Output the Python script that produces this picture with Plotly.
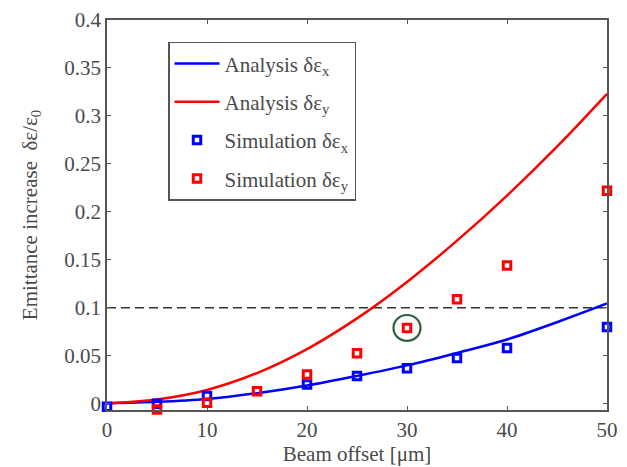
import plotly.graph_objects as go

# Analysis curves
x_curve = [0, 5, 10, 15, 20, 25, 30, 35, 40, 45, 50]
analysis_x = [0.0005, 0.002, 0.005, 0.011, 0.019, 0.029, 0.040, 0.053, 0.067, 0.085, 0.1045]
analysis_y = [0.0005, 0.0045, 0.0144, 0.032, 0.057, 0.089, 0.127, 0.170, 0.217, 0.268, 0.323]

# Simulation points
sim_x_pos = [0, 5, 10, 20, 25, 30, 35, 40, 50]
sim_x_val = [-0.003, 0.0, 0.008, 0.020, 0.029, 0.037, 0.0476, 0.058, 0.080]
sim_y_pos = [0, 5, 10, 15, 20, 25, 30, 35, 40, 50]
sim_y_val = [-0.007, -0.006, 0.001, 0.013, 0.0305, 0.0527, 0.079, 0.109, 0.144, 0.222]

threshold = 0.1
highlight = (30, 0.079)

x_ticks = [0, 10, 20, 30, 40, 50]
y_ticks = [0, 0.05, 0.1, 0.15, 0.2, 0.25, 0.3, 0.35, 0.4]
y_tick_text = ["0", "0.05", "0.1", "0.15", "0.2", "0.25", "0.3", "0.35", "0.4"]

BLUE = "#0000ff"
RED = "#ff0000"
TXT = "#4a4a4a"
FONT = "Liberation Serif"
FS = 21

fig = go.Figure()

fig.add_trace(go.Scatter(x=[0, 50], y=[threshold, threshold], mode="lines",
                         line=dict(color="#333333", width=1.5, dash="9px,5px"),
                         showlegend=False, hoverinfo="skip"))

fig.add_trace(go.Scatter(x=x_curve, y=analysis_x, mode="lines", line_shape="spline",
                         line=dict(color=BLUE, width=2.5), name="Analysis δε<sub>x</sub>",
                         legendgroup="a"))
fig.add_trace(go.Scatter(x=x_curve, y=analysis_y, mode="lines", line_shape="spline",
                         line=dict(color=RED, width=2.5), name="Analysis δε<sub>y</sub>",
                         legendgroup="b"))
fig.add_trace(go.Scatter(x=sim_x_pos, y=sim_x_val, mode="markers", cliponaxis=False,
                         marker=dict(symbol="square-open", size=7.5, color=BLUE, line=dict(width=3)),
                         name="Simulation δε<sub>x</sub>", legendgroup="c"))
fig.add_trace(go.Scatter(x=sim_y_pos, y=sim_y_val, mode="markers", cliponaxis=False,
                         marker=dict(symbol="square-open", size=7.5, color=RED, line=dict(width=3)),
                         name="Simulation δε<sub>y</sub>", legendgroup="d"))

fig.add_shape(type="circle", xref="x", yref="y",
              x0=highlight[0] - 1.35, x1=highlight[0] + 1.35,
              y0=highlight[1] - 0.0135, y1=highlight[1] + 0.0135,
              line=dict(color="#2f5f3f", width=2.2))

axis_common = dict(showline=True, linecolor="#555555", linewidth=1.5, mirror="ticks",
                   ticks="inside", ticklen=4, tickcolor="#555555", showgrid=False,
                   zeroline=False, automargin=False, ticklabeloverflow="allow",
                   tickfont=dict(family=FONT, size=FS, color=TXT))

fig.update_xaxes(range=[0, 50], tickvals=x_ticks,
                 title=dict(text="Beam offset [μm]", font=dict(family=FONT, size=FS, color=TXT),
                            standoff=2),
                 **axis_common)
fig.update_yaxes(range=[-0.0065, 0.4], tickvals=y_ticks, ticktext=y_tick_text,
                 title=dict(text="Emittance increase  δε/ε<sub>0</sub>",
                            font=dict(family=FONT, size=FS, color=TXT), standoff=21),
                 **axis_common)

# page body has an 8px default margin, so the figure is shrunk/offset to compensate
fig.update_layout(
    width=619, height=459,
    margin=dict(l=99, r=20, t=12, b=57),
    plot_bgcolor="white", paper_bgcolor="white",
    legend=dict(x=0.122, y=0.944, xanchor="left", yanchor="top",
                bgcolor="white", bordercolor="#555555", borderwidth=1.5,
                font=dict(family=FONT, size=FS, color=TXT),
                tracegroupgap=8, itemwidth=45),
)

fig.write_html("out.html")
